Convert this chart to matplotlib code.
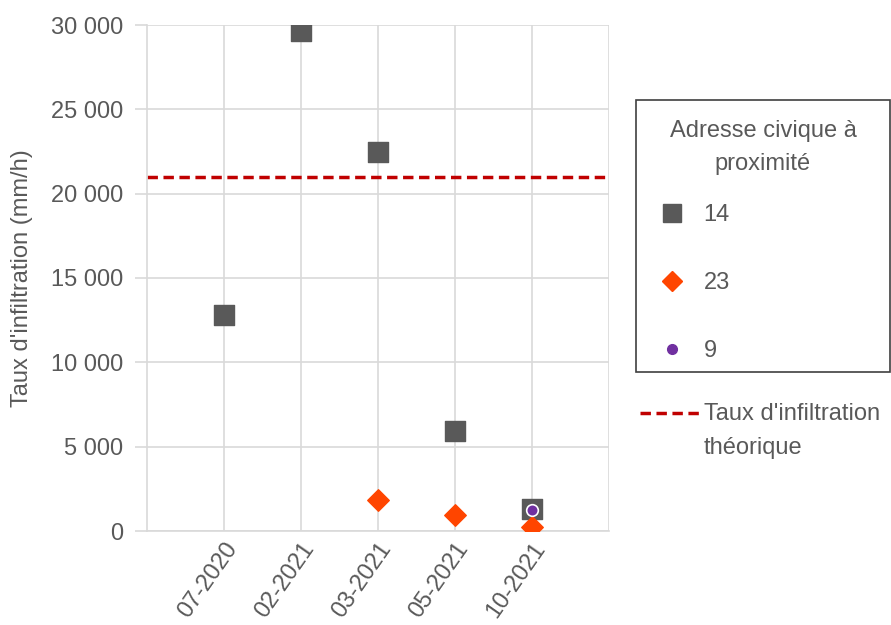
import matplotlib.pyplot as plt
from matplotlib.lines import Line2D
from matplotlib.patches import Rectangle

plt.rcParams['font.family'] = ['Liberation Sans', 'DejaVu Sans']

dates = ['07-2020', '02-2021', '03-2021', '05-2021', '10-2021']

# taux mesurés par adresse civique
x_14 = [1, 2, 3, 4, 5]
y_14 = [12800, 29650, 22450, 5930, 1300]
x_23 = [3, 4, 5]
y_23 = [1830, 950, 250]
x_9 = [5]
y_9 = [1250]
taux_theorique = 21000

grey = '#595959'
grid = '#d9d9d9'
dash = (0, (3, 1.6))

fig = plt.figure(figsize=(8.91, 6.25), dpi=100)
ax = fig.add_axes([0.165, 0.1504, 0.5185, 0.8096])

ax.scatter(x_14, y_14, marker='s', s=200, color=grey, zorder=3)
ax.scatter(x_23, y_23, marker='D', s=120, color='#ff4500', zorder=4)
ax.scatter(x_9, y_9, marker='o', s=70, color='#7030a0', edgecolor='white', linewidth=1.2, zorder=5)
ax.axhline(taux_theorique, color='#c00000', ls=dash, lw=2.5, zorder=2)

ax.set_xlim(0, 6)
ax.set_ylim(0, 30000)
ax.set_xticks(range(1, 7))
ax.set_xticklabels(dates + [''], rotation=55, ha='right', rotation_mode='anchor',
                   fontsize=17, color=grey)
ax.set_yticks(range(0, 30001, 5000))
ax.set_yticklabels([f'{v:,}'.replace(',', ' ') for v in range(0, 30001, 5000)],
                   fontsize=17, color=grey)
ax.tick_params(axis='x', length=0, pad=5)
ax.tick_params(axis='y', length=9, color=grid, width=1.2, pad=8)
ax.grid(True, color=grid, lw=1.2, zorder=0)
for side in ['top', 'right']:
    ax.spines[side].set_visible(False)
for side in ['left', 'bottom']:
    ax.spines[side].set_color(grid)
    ax.spines[side].set_linewidth(1.2)
ax.set_ylabel("Taux d'infiltration (mm/h)", fontsize=17, color=grey, labelpad=13)

# légende des adresses, dans un cadre avec titre centré
fig.add_artist(Rectangle((0.7138, 0.4048), 0.2851, 0.4352, transform=fig.transFigure,
                         fill=False, edgecolor='#404040', lw=1.2))
fig.text(0.8563, 0.764, 'Adresse civique à\nproximité', ha='center', va='center',
         fontsize=17, color=grey, linespacing=1.7)

handles = [
    Line2D([], [], marker='s', ls='', color=grey, markersize=13),
    Line2D([], [], marker='D', ls='', color='#ff4500', markersize=10),
    Line2D([], [], marker='o', ls='', color='#7030a0', markersize=7),
]
leg = fig.legend(handles, ['14', '23', '9'], loc='upper left',
                 bbox_to_anchor=(0.7407, 0.673), fontsize=17, frameon=False,
                 labelspacing=1.95, handletextpad=0.85, borderpad=0,
                 borderaxespad=0, handlelength=1.0)
for t in leg.get_texts():
    t.set_color(grey)

# ligne du taux théorique
fig.add_artist(Line2D([0.7183, 0.7856], [0.3392, 0.3392], transform=fig.transFigure,
                      color='#c00000', ls=dash, lw=2.5))
fig.text(0.790, 0.3552, "Taux d'infiltration\nthéorique", ha='left', va='top',
         fontsize=17, color=grey, linespacing=1.7)

fig.savefig('out.png', dpi=100)
